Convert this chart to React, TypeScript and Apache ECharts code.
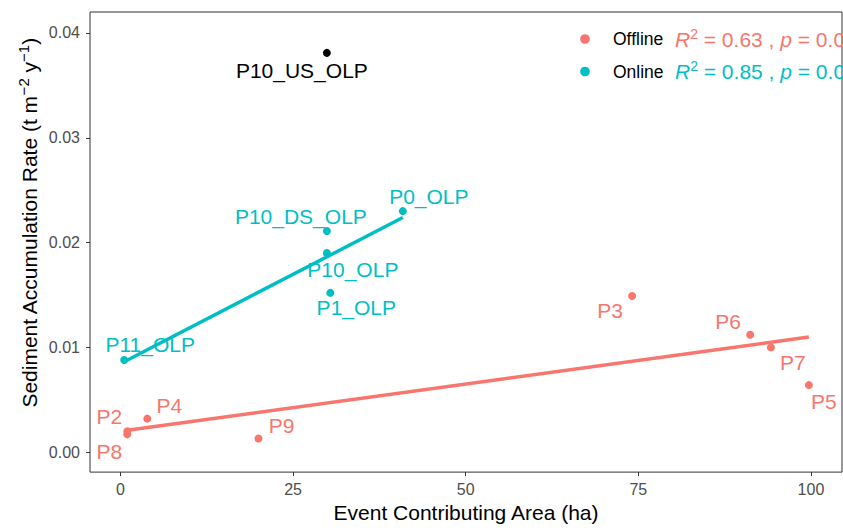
import React, { useEffect, useRef } from "react";
import * as echarts from "echarts";

// ---- data ----
const offlineNames = ["P2", "P8", "P4", "P9", "P3", "P6", "P7", "P5"];
const offlineArea = [1.0, 1.0, 3.9, 20.0, 74.1, 91.2, 94.2, 99.7];
const offlineRate = [0.0020, 0.0017, 0.0032, 0.0013, 0.0149, 0.0112, 0.0100, 0.0064];

const onlineNames = ["P11_OLP", "P10_DS_OLP", "P10_OLP", "P1_OLP", "P0_OLP"];
const onlineArea = [0.55, 29.9, 29.9, 30.4, 40.9];
const onlineRate = [0.0088, 0.0211, 0.0190, 0.0152, 0.0230];

const otherNames = ["P10_US_OLP"];
const otherArea = [29.9];
const otherRate = [0.0381];

const xTicks = [0, 25, 50, 75, 100];
const yTicks = [0, 0.01, 0.02, 0.03, 0.04];

const legendGroups = ["Offline", "Online"];
const groupR2 = ["0.63", "0.85"];
const groupP = ["0.019", "0.026"];

// label offsets (px) relative to each point
const labelOffsets: Record<string, [number, number]> = {
  P2: [-18, -15],
  P8: [-18, 17],
  P4: [22, -13],
  P9: [23, -13],
  P3: [-22, 14],
  P6: [-22, -13],
  P7: [22, 15],
  P5: [15, 16],
  P11_OLP: [26, -15],
  P10_DS_OLP: [-26, -15],
  P10_OLP: [26, 16],
  P1_OLP: [26, 15],
  P0_OLP: [26, -15],
  P10_US_OLP: [-25, 18],
};

const OFF = "#F8766D";
const ON = "#00BFC4";
const FONT = "Liberation Sans, Arial, sans-serif";

function fit(xs: number[], ys: number[]) {
  const n = xs.length;
  const mx = xs.reduce((a, b) => a + b, 0) / n;
  const my = ys.reduce((a, b) => a + b, 0) / n;
  let sxy = 0, sxx = 0;
  for (let i = 0; i < n; i++) {
    sxy += (xs[i] - mx) * (ys[i] - my);
    sxx += (xs[i] - mx) ** 2;
  }
  const b = sxy / sxx;
  const a = my - b * mx;
  const x0 = Math.min(...xs), x1 = Math.max(...xs);
  return [[x0, a + b * x0], [x1, a + b * x1]];
}

function pts(names: string[], xs: number[], ys: number[], color: string) {
  return names.map((nm, i) => ({
    value: [xs[i], ys[i]],
    name: nm,
    label: {
      show: true,
      position: "inside",
      offset: labelOffsets[nm],
      formatter: nm,
      color,
      opacity: 1,
      fontSize: 21,
      fontFamily: FONT,
    },
  }));
}

export default function App() {
  const ref = useRef<HTMLDivElement>(null);
  useEffect(() => {
    if (!ref.current) return;
    const chart = echarts.init(ref.current, null, { renderer: "svg" });
    const legendItems: any[] = [];
    const colors = [OFF, ON];
    legendGroups.forEach((g, i) => {
      const y = 39 + i * 32.5;
      legendItems.push({
        type: "circle",
        shape: { cx: 585, cy: y, r: 4.8 },
        style: { fill: colors[i] },
      });
      legendItems.push({
        type: "text",
        x: 613,
        y,
        style: {
          text: g,
          fill: "#000",
          font: `17.5px ${FONT}`,
          verticalAlign: "middle",
        },
      });
      legendItems.push({
        type: "text",
        x: 675,
        y,
        style: {
          text: `{i|R}{s|2}{n| = ${groupR2[i]} , }{i|p}{n| = ${groupP[i]}}`,
          verticalAlign: "middle",
          fill: colors[i],
          rich: {
            i: { fontSize: 21, fontStyle: "italic", fontFamily: FONT, color: colors[i], lineHeight: 25 },
            n: { fontSize: 21, fontFamily: FONT, color: colors[i], lineHeight: 25 },
            s: { fontSize: 14, fontFamily: FONT, color: colors[i], verticalAlign: "top", lineHeight: 14 },
          },
        },
      });
    });
    // y-axis title
    legendItems.push({
      type: "text",
      x: 29,
      y: 223,
      rotation: Math.PI / 2,
      style: {
        text: "{n|Sediment Accumulation Rate (t m}{s|−2}{n| y}{s|−1}{n|)}",
        align: "center",
        verticalAlign: "middle",
        rich: {
          n: { fontSize: 21, fontFamily: FONT, color: "#000", lineHeight: 26 },
          s: { fontSize: 15, fontFamily: FONT, color: "#000", verticalAlign: "top", lineHeight: 15 },
        },
      },
    });

    chart.setOption({
      animation: false,
      backgroundColor: "#fff",
      textStyle: { fontFamily: FONT },
      grid: {
        left: 90,
        right: 1,
        top: 12,
        bottom: 52,
        show: true,
        borderColor: "#333",
        borderWidth: 1,
        backgroundColor: "transparent",
      },
      xAxis: {
        type: "value",
        min: -4.4,
        max: 104.5,
        name: "Event Contributing Area (ha)",
        nameLocation: "middle",
        nameGap: 29,
        nameTextStyle: { fontSize: 21, color: "#000", fontFamily: FONT },
        axisLine: { show: false, onZero: false },
        axisTick: { show: true, length: 4, lineStyle: { color: "#333" }, customValues: xTicks },
        axisLabel: { color: "#4D4D4D", fontSize: 16, margin: 9, customValues: xTicks, fontFamily: FONT },
        splitLine: { show: false },
      },
      yAxis: {
        type: "value",
        min: -0.0019,
        max: 0.042,
        axisLine: { show: false, onZero: false },
        axisTick: { show: true, length: 4, lineStyle: { color: "#333" }, customValues: yTicks },
        axisLabel: {
          color: "#4D4D4D",
          fontSize: 16,
          margin: 10,
          customValues: yTicks,
          fontFamily: FONT,
          formatter: (v: number) => v.toFixed(2),
        },
        splitLine: { show: false },
      },
      series: [
        {
          type: "scatter",
          symbolSize: 8,
          itemStyle: { color: OFF, opacity: 1 },
          data: pts(offlineNames, offlineArea, offlineRate, OFF),
          z: 3,
        },
        {
          type: "scatter",
          symbolSize: 8,
          itemStyle: { color: ON, opacity: 1 },
          data: pts(onlineNames, onlineArea, onlineRate, ON),
          z: 3,
        },
        {
          type: "scatter",
          symbolSize: 8,
          itemStyle: { color: "#000", opacity: 1 },
          data: pts(otherNames, otherArea, otherRate, "#000"),
          z: 3,
        },
        {
          type: "line",
          data: fit(offlineArea, offlineRate),
          symbol: "none",
          lineStyle: { color: OFF, width: 3.5 },
          z: 4,
        },
        {
          type: "line",
          data: fit(onlineArea, onlineRate),
          symbol: "none",
          lineStyle: { color: ON, width: 3.5 },
          z: 4,
        },
      ],
      graphic: legendItems,
    });
    return () => chart.dispose();
  }, []);
  return (
    <div
      ref={ref}
      style={{ position: "fixed", left: 0, top: 0, width: 843, height: 528 }}
    />
  );
}
